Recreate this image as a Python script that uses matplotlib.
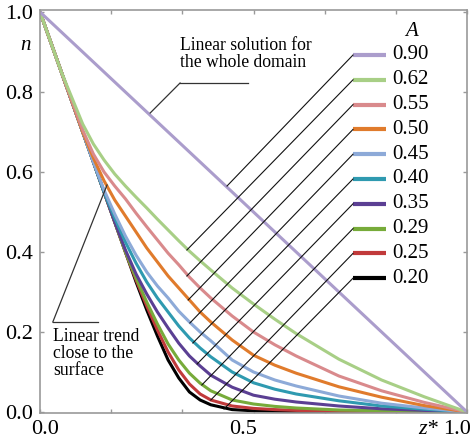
import matplotlib
matplotlib.use("Agg")
import matplotlib.pyplot as plt

plt.rcParams['font.family'] = ['Liberation Serif', 'DejaVu Serif']

# shared z* grid for the profiles
z = [0, .05, .1, .125, .15, .175, .2, .225, .25, .275, .3, .325, .35, .375,
     .4, .45, .5, .55, .6, .7, .8, .9, 1.0]

labels = ['0.90', '0.62', '0.55', '0.50', '0.45', '0.40', '0.35', '0.29', '0.25', '0.20']
colors = ['#ab9dcc', '#a8cf86', '#d98a8c', '#e07b2c', '#8daad8',
          '#2f9ab0', '#5b3f93', '#77ab3a', '#c13a3b', '#000000']

n_090 = [1 - v for v in z]
n_062 = [1.0, .85, .72, .67, .63, .595, .565, .537, .51, .482, .455, .428, .402, .378,
         .355, .31, .27, .232, .196, .132, .08, .038, 0.0]
n_055 = [1.0, .85, .705, .645, .60, .565, .533, .497, .463, .43, .397, .368, .337, .31,
         .285, .24, .20, .168, .14, .09, .053, .024, 0.0]
n_050 = [1.0, .85, .70, .635, .578, .53, .49, .45, .41, .375, .34, .31, .28, .25,
         .225, .18, .142, .117, .097, .063, .037, .016, 0.0]
n_045 = [1.0, .85, .70, .625, .555, .495, .44, .392, .35, .315, .285, .252, .225, .20,
         .178, .13, .10, .08, .065, .04, .022, .01, 0.0]
n_040 = [1.0, .85, .70, .625, .55, .485, .425, .372, .325, .285, .25, .215, .185, .16,
         .138, .10, .073, .057, .045, .028, .015, .007, 0.0]
n_035 = [1.0, .85, .70, .625, .55, .475, .405, .345, .295, .25, .21, .172, .14, .115,
         .092, .062, .042, .032, .025, .015, .008, .004, 0.0]
n_029 = [1.0, .85, .70, .625, .55, .475, .40, .335, .275, .22, .17, .13, .097, .072,
         .053, .03, .02, .014, .01, .005, .003, .0015, 0.0]
n_025 = [1.0, .85, .70, .625, .55, .475, .40, .33, .265, .205, .15, .105, .07, .045,
         .03, .015, .009, .006, .004, .002, .001, .0005, 0.0]
n_020 = [1.0, .85, .70, .625, .55, .475, .40, .325, .255, .19, .13, .085, .05, .03,
         .018, .006, .003, .002, .001, .0005, 0.0, 0.0, 0.0]

profiles = [n_090, n_062, n_055, n_050, n_045, n_040, n_035, n_029, n_025, n_020]

# where each legend leader touches its curve
leader_ends = [(0.438, 0.565), (0.344, 0.405), (0.344, 0.34), (0.347, 0.28),
               (0.351, 0.2225), (0.358, 0.1725), (0.368, 0.12), (0.379, 0.0675),
               (0.40, 0.03), (0.431, 0.0075)]

fig = plt.figure(figsize=(4.73, 4.40), dpi=100)
ax = fig.add_axes([40 / 473, 27 / 440, 427 / 473, 403 / 440])

for prof, col in reversed(list(zip(profiles, colors))):
    ax.plot(z, prof, color=col, lw=2.2, solid_capstyle='butt')

# hand-made legend with leader lines
leg_y0, leg_dy = 0.8925, 0.062
for i, (lab, col) in enumerate(zip(labels, colors)):
    y = leg_y0 - i * leg_dy
    ax.plot([0.733, 0.810], [y, y], color=col, lw=3.0, solid_capstyle='butt')
    ax.text(0.824, y, lab, fontsize=15, va='center', ha='left')
    ex, ey = leader_ends[i]
    ax.plot([0.733, ex], [y, ey], color='#111111', lw=0.8)
ax.text(0.871, 0.95, 'A', fontsize=15, style='italic', ha='center', va='center')

# annotations
ax.text(0.328, 0.9375, 'Linear solution for\nthe whole domain', fontsize=12.7,
        va='top', ha='left', linespacing=1.0)
ax.plot([0.328, 0.487], [0.8225, 0.8225], color='#333333', lw=0.9)
ax.plot([0.328, 0.258], [0.8225, 0.7475], color='#333333', lw=0.9)

ax.text(0.030, 0.21, 'Linear trend\nclose to the\nsurface', fontsize=12.7,
        va='top', ha='left', linespacing=1.0)
ax.plot([0.030, 0.136], [0.225, 0.225], color='#333333', lw=0.9)
ax.plot([0.030, 0.157], [0.225, 0.5675], color='#333333', lw=0.9)

ax.set_xlim(0, 1)
ax.set_ylim(-0.0025, 1.005)
ax.set_xticks([k / 6 for k in range(7)])
ax.set_xticklabels([])
ax.set_yticks([0, 0.2, 0.4, 0.6, 0.8, 1.0])
ax.set_yticklabels(['0.0', '0.2', '0.4', '0.6', '0.8', '1.0'], fontsize=16)
ax.tick_params(direction='in', length=3, color='#999999', width=1,
               top=True, right=True, pad=5)
for sp in ax.spines.values():
    sp.set_color('#999999')
    sp.set_linewidth(1.2)

fig.text(25 / 473, 1 - 45 / 440, 'n', fontsize=15, style='italic', ha='center', va='center')
fig.text(45 / 473, 1 - 429 / 440, '0.0', fontsize=16, ha='center', va='center')
fig.text(243 / 473, 1 - 429 / 440, '0.5', fontsize=16, ha='center', va='center')
fig.text(438 / 473, 1 - 429 / 440, 'z*', fontsize=16, style='italic', ha='right', va='center')
fig.text(471 / 473, 1 - 429 / 440, '1.0', fontsize=16, ha='right', va='center')

fig.savefig('out.png', dpi=100)
